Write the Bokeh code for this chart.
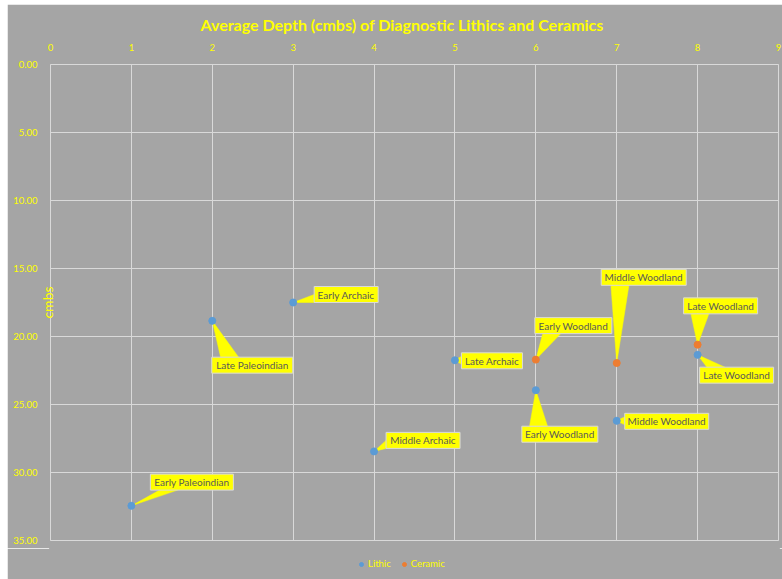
import math
from bokeh.plotting import figure
from bokeh.layouts import column
from bokeh.models import (Range1d, FixedTicker, NumeralTickFormatter, Legend,
                          LegendItem, ColumnDataSource)
from bokeh.core.properties import value
from bokeh.embed import file_html
from bokeh.resources import INLINE

# ---------------- data ----------------
title_text = "Average Depth (cmbs) of Diagnostic Lithics and Ceramics"
y_axis_label = "cmbs"
x_ticks = [0, 1, 2, 3, 4, 5, 6, 7, 8, 9]
y_ticks = [0, 5, 10, 15, 20, 25, 30, 35]

lithic_x = [1, 2, 3, 4, 5, 6, 7, 8]
lithic_y = [32.45, 18.85, 17.5, 28.45, 21.75, 23.95, 26.2, 21.35]
lithic_labels = ["Early Paleoindian", "Late Paleoindian", "Early Archaic", "Middle Archaic",
                 "Late Archaic", "Early Woodland", "Middle Woodland", "Late Woodland"]

ceramic_x = [6, 7, 8]
ceramic_y = [21.7, 21.95, 20.6]
ceramic_labels = ["Early Woodland", "Middle Woodland", "Late Woodland"]

series_names = ["Lithic", "Ceramic"]

# callout layout (pixel offsets of box centre from point, y downwards; box widths)
lithic_dx = [60.5, 40, 53, 49, 37, 24, 50, 39]
lithic_dy = [-23.7, 44.3, -8, -11, 0.5, 44, 0.5, 20.3]
lithic_w = [83, 81, 64, 74, 61, 76, 84, 74]
ceramic_dx = [37.5, 27, 23]
ceramic_dy = [-34, -85.7, -38.8]
ceramic_w = [77, 85, 74]
BOX_H = 16

# ---------------- styling ----------------
BG = "#A5A5A5"
YEL = "#FFFF00"
GRID = "#D9D9D9"
BLUE = "#5B9BD5"
ORANGE = "#ED7D31"
FONT = "Lato"

W = 775
H_MAIN, H_LEG = 544, 31
ML, MR, MT, MB = 43, 4, 60, 8
FW, FH = W - ML - MR, H_MAIN - MT - MB
X0, X1 = x_ticks[0], x_ticks[-1]
Y0, Y1 = y_ticks[0], y_ticks[-1]
sx = FW / (X1 - X0)
sy = FH / (Y1 - Y0)

p = figure(width=W, height=H_MAIN, output_backend="svg", toolbar_location=None,
           x_range=Range1d(X0, X1), y_range=Range1d(Y1, Y0),
           x_axis_location="above", min_border_left=ML, min_border_right=MR,
           min_border_top=MT, min_border_bottom=MB)
p.background_fill_color = BG
p.border_fill_color = BG
p.outline_line_color = GRID
p.outline_line_width = 1

p.title.text = title_text
p.title.align = "left"
p.title.offset = 150
p.title.standoff = 14
p.title.text_color = YEL
p.title.text_font = FONT
p.title.text_font_style = "bold"
p.title.text_font_size = "16px"

for ax in (p.xaxis[0], p.yaxis[0]):
    ax.axis_line_color = None
    ax.major_tick_line_color = None
    ax.minor_tick_line_color = None
    ax.major_label_text_color = YEL
    ax.major_label_text_font = FONT
    ax.major_label_text_font_size = "9.5px"
p.xaxis[0].major_label_standoff = 8
p.yaxis[0].major_label_standoff = 7
p.xaxis[0].ticker = FixedTicker(ticks=x_ticks)
p.yaxis[0].ticker = FixedTicker(ticks=y_ticks)
p.yaxis[0].formatter = NumeralTickFormatter(format="0.00")
p.yaxis[0].axis_label = y_axis_label
p.yaxis[0].axis_label_text_color = YEL
p.yaxis[0].axis_label_text_font = FONT
p.yaxis[0].axis_label_text_font_style = "normal"
p.yaxis[0].axis_label_text_font_size = "14px"
p.yaxis[0].axis_label_standoff = -46
# interior grid lines only; the frame outline gives the outer edges
p.xgrid.grid_line_color = GRID
p.ygrid.grid_line_color = GRID
p.xgrid.ticker = FixedTicker(ticks=x_ticks[1:-1])
p.ygrid.ticker = FixedTicker(ticks=y_ticks[1:-1])


def callouts(xs, ys, labels, dxs, dys, ws):
    tri_x, tri_y, bx, by, bw = [], [], [], [], []
    for x, y, dx, dy, w in zip(xs, ys, dxs, dys, ws):
        h = BOX_H
        if abs(dy) > h / 2 + 6:
            ey = dy - h / 2 if dy > 0 else dy + h / 2
            cx = (dx - w / 2) + 0.22 * w
            pts = [(0, 0), (cx - 9, ey), (cx + 9, ey)]
        else:
            ex = dx - w / 2
            cy = min(max(0, dy - h / 2 + 4), dy + h / 2 - 4)
            pts = [(0, 0), (ex, cy - 4), (ex, cy + 4)]
        tri_x.append([x + px / sx for px, py in pts])
        tri_y.append([y + py / sy for px, py in pts])
        bx.append(x + dx / sx)
        by.append(y + dy / sy)
        bw.append(w)
    p.patches(tri_x, tri_y, fill_color=YEL, line_color=YEL, line_width=0.5)
    src = ColumnDataSource(dict(x=bx, y=by, w=bw, t=labels))
    p.rect("x", "y", width="w", height=BOX_H, width_units="screen", height_units="screen",
           source=src, fill_color=YEL, line_color=GRID, line_width=1)
    p.text("x", "y", text="t", source=src, text_align="center", text_baseline="middle",
           text_color="#595959", text_font=value(FONT), text_font_size="10px")


callouts(lithic_x, lithic_y, lithic_labels, lithic_dx, lithic_dy, lithic_w)
callouts(ceramic_x, ceramic_y, ceramic_labels, ceramic_dx, ceramic_dy, ceramic_w)

p.scatter(lithic_x, lithic_y, size=7, fill_color=BLUE, line_color=BLUE)
p.scatter(ceramic_x, ceramic_y, size=7, fill_color=ORANGE, line_color=ORANGE)

# ---------------- legend strip ----------------
pl = figure(width=W, height=H_LEG, output_backend="svg", toolbar_location=None,
            x_range=Range1d(0, 1), y_range=Range1d(0, 1),
            x_axis_location=None, y_axis_location=None,
            min_border_left=0, min_border_right=0, min_border_top=0, min_border_bottom=0)
pl.background_fill_color = BG
pl.border_fill_color = BG
pl.outline_line_color = BG
pl.outline_line_width = 3
pl.xgrid.grid_line_color = None
pl.ygrid.grid_line_color = None
# legend-only renderers, placed outside the visible range
rl = pl.scatter([-5], [-5], size=8, fill_color=BLUE, line_color=BLUE)
rc = pl.scatter([-5], [-5], size=8, fill_color=ORANGE, line_color=ORANGE)
legend = Legend(items=[LegendItem(label=series_names[0], renderers=[rl]),
                       LegendItem(label=series_names[1], renderers=[rc])],
                orientation="horizontal", location=(306, 10),
                background_fill_alpha=0, border_line_color=None,
                label_text_color=YEL, label_text_font=FONT, label_text_font_size="9.5px",
                glyph_width=10, glyph_height=10, label_height=10, padding=0, spacing=8,
                label_standoff=2, margin=0)
pl.add_layout(legend)

layout = column(p, pl, spacing=0)
layout.margin = (4, 0, 0, 7)

open("out.html", "w").write(file_html(layout, INLINE))
